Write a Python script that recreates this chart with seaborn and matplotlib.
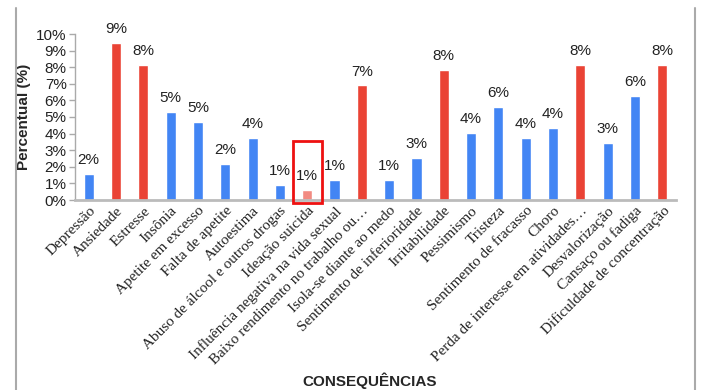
import matplotlib
matplotlib.use("Agg")
import matplotlib.pyplot as plt
from matplotlib.patches import Rectangle
from matplotlib.lines import Line2D
import seaborn as sns

categories = [
    "Depressão", "Ansiedade", "Estresse", "Insônia", "Apetite em excesso",
    "Falta de apetite", "Autoestima", "Abuso de álcool e outros drogas",
    "Ideação suicida", "Influência negativa na vida sexual",
    "Baixo rendimento no trabalho ou…", "Isola-se diante ao medo",
    "Sentimento de inferioridade", "Irritabilidade", "Pessimismo", "Tristeza",
    "Sentimento de fracasso", "Choro", "Perda de interesse em atividades…",
    "Desvalorização", "Cansaço ou fadiga", "Dificuldade de concentração",
]
values = [1.55, 9.44, 8.13, 5.32, 4.68, 2.17, 3.75, 0.9, 0.58, 1.2, 6.9, 1.2,
          2.55, 7.83, 4.05, 5.62, 3.75, 4.36, 8.15, 3.41, 6.27, 8.15]
groups = ["b", "r", "r", "b", "b", "b", "b", "b", "p", "b", "r", "b",
          "b", "r", "b", "b", "b", "b", "r", "b", "b", "r"]
group_colors = {"b": "#4285F4", "r": "#EA4335", "p": "#F28B82"}
y_ticks = list(range(0, 11))
highlight = "Ideação suicida"

sns.set_theme(style="white")
plt.rcParams["font.family"] = ["Liberation Sans", "DejaVu Sans"]

fig = plt.figure(figsize=(7.01, 3.90), dpi=100)
W, H = 701, 390
ax = fig.add_axes([75 / W, (H - 200) / H, 601 / W, 166 / H])

sns.barplot(x=categories, y=values, hue=groups, palette=group_colors,
            dodge=False, legend=False, width=0.37, saturation=1, ax=ax)

ax.set_ylim(0, 10)
ax.set_xlim(-0.5, len(categories) - 0.5)
ax.set_yticks(y_ticks)
ax.set_yticklabels([f"{t}%" for t in y_ticks], fontsize=11, color="#222222")
ax.set_xticks(range(len(categories)))
ax.set_xticklabels(categories, rotation=45, ha="right", rotation_mode="anchor",
                   fontsize=11, family=["Liberation Serif", "DejaVu Serif"],
                   color="#222222")
ax.tick_params(axis="y", length=4, width=1, color="#AAAAAA", pad=2, left=True)
ax.tick_params(axis="x", length=0, pad=3)

for side in ("top", "right"):
    ax.spines[side].set_visible(False)
ax.spines["left"].set_color("#AAAAAA")
ax.spines["left"].set_linewidth(1)
ax.spines["bottom"].set_color("#BBBBBB")
ax.spines["bottom"].set_linewidth(2)

# value labels above each bar
for i, v in enumerate(values):
    ax.annotate(f"{v:.0f}%", (i, v), xytext=(0, 5), textcoords="offset points",
                ha="center", va="bottom", fontsize=11, color="#222222")

# outline around the highlighted category
hi = categories.index(highlight)
ax.add_patch(Rectangle((hi - 0.53, -0.16), 1.08, 3.71, fill=False,
                       edgecolor="#EE1111", linewidth=2, clip_on=False, zorder=5))

ax.set_ylabel("Percentual (%)", fontsize=11, fontweight="bold", labelpad=4)
ax.set_xlabel("CONSEQUÊNCIAS", fontsize=11, fontweight="bold", va="center")
ax.xaxis.set_label_coords(0.49, (200 - 381) / 166)

# page frame lines at the sides
fig.add_artist(Line2D([16 / W, 16 / W], [0, (H - 8) / H], color="#AAAAAA", lw=1.5))
fig.add_artist(Line2D([695 / W, 695 / W], [0, (H - 8) / H], color="#AAAAAA", lw=1.5))

fig.savefig("out.png", dpi=100, facecolor="white")
